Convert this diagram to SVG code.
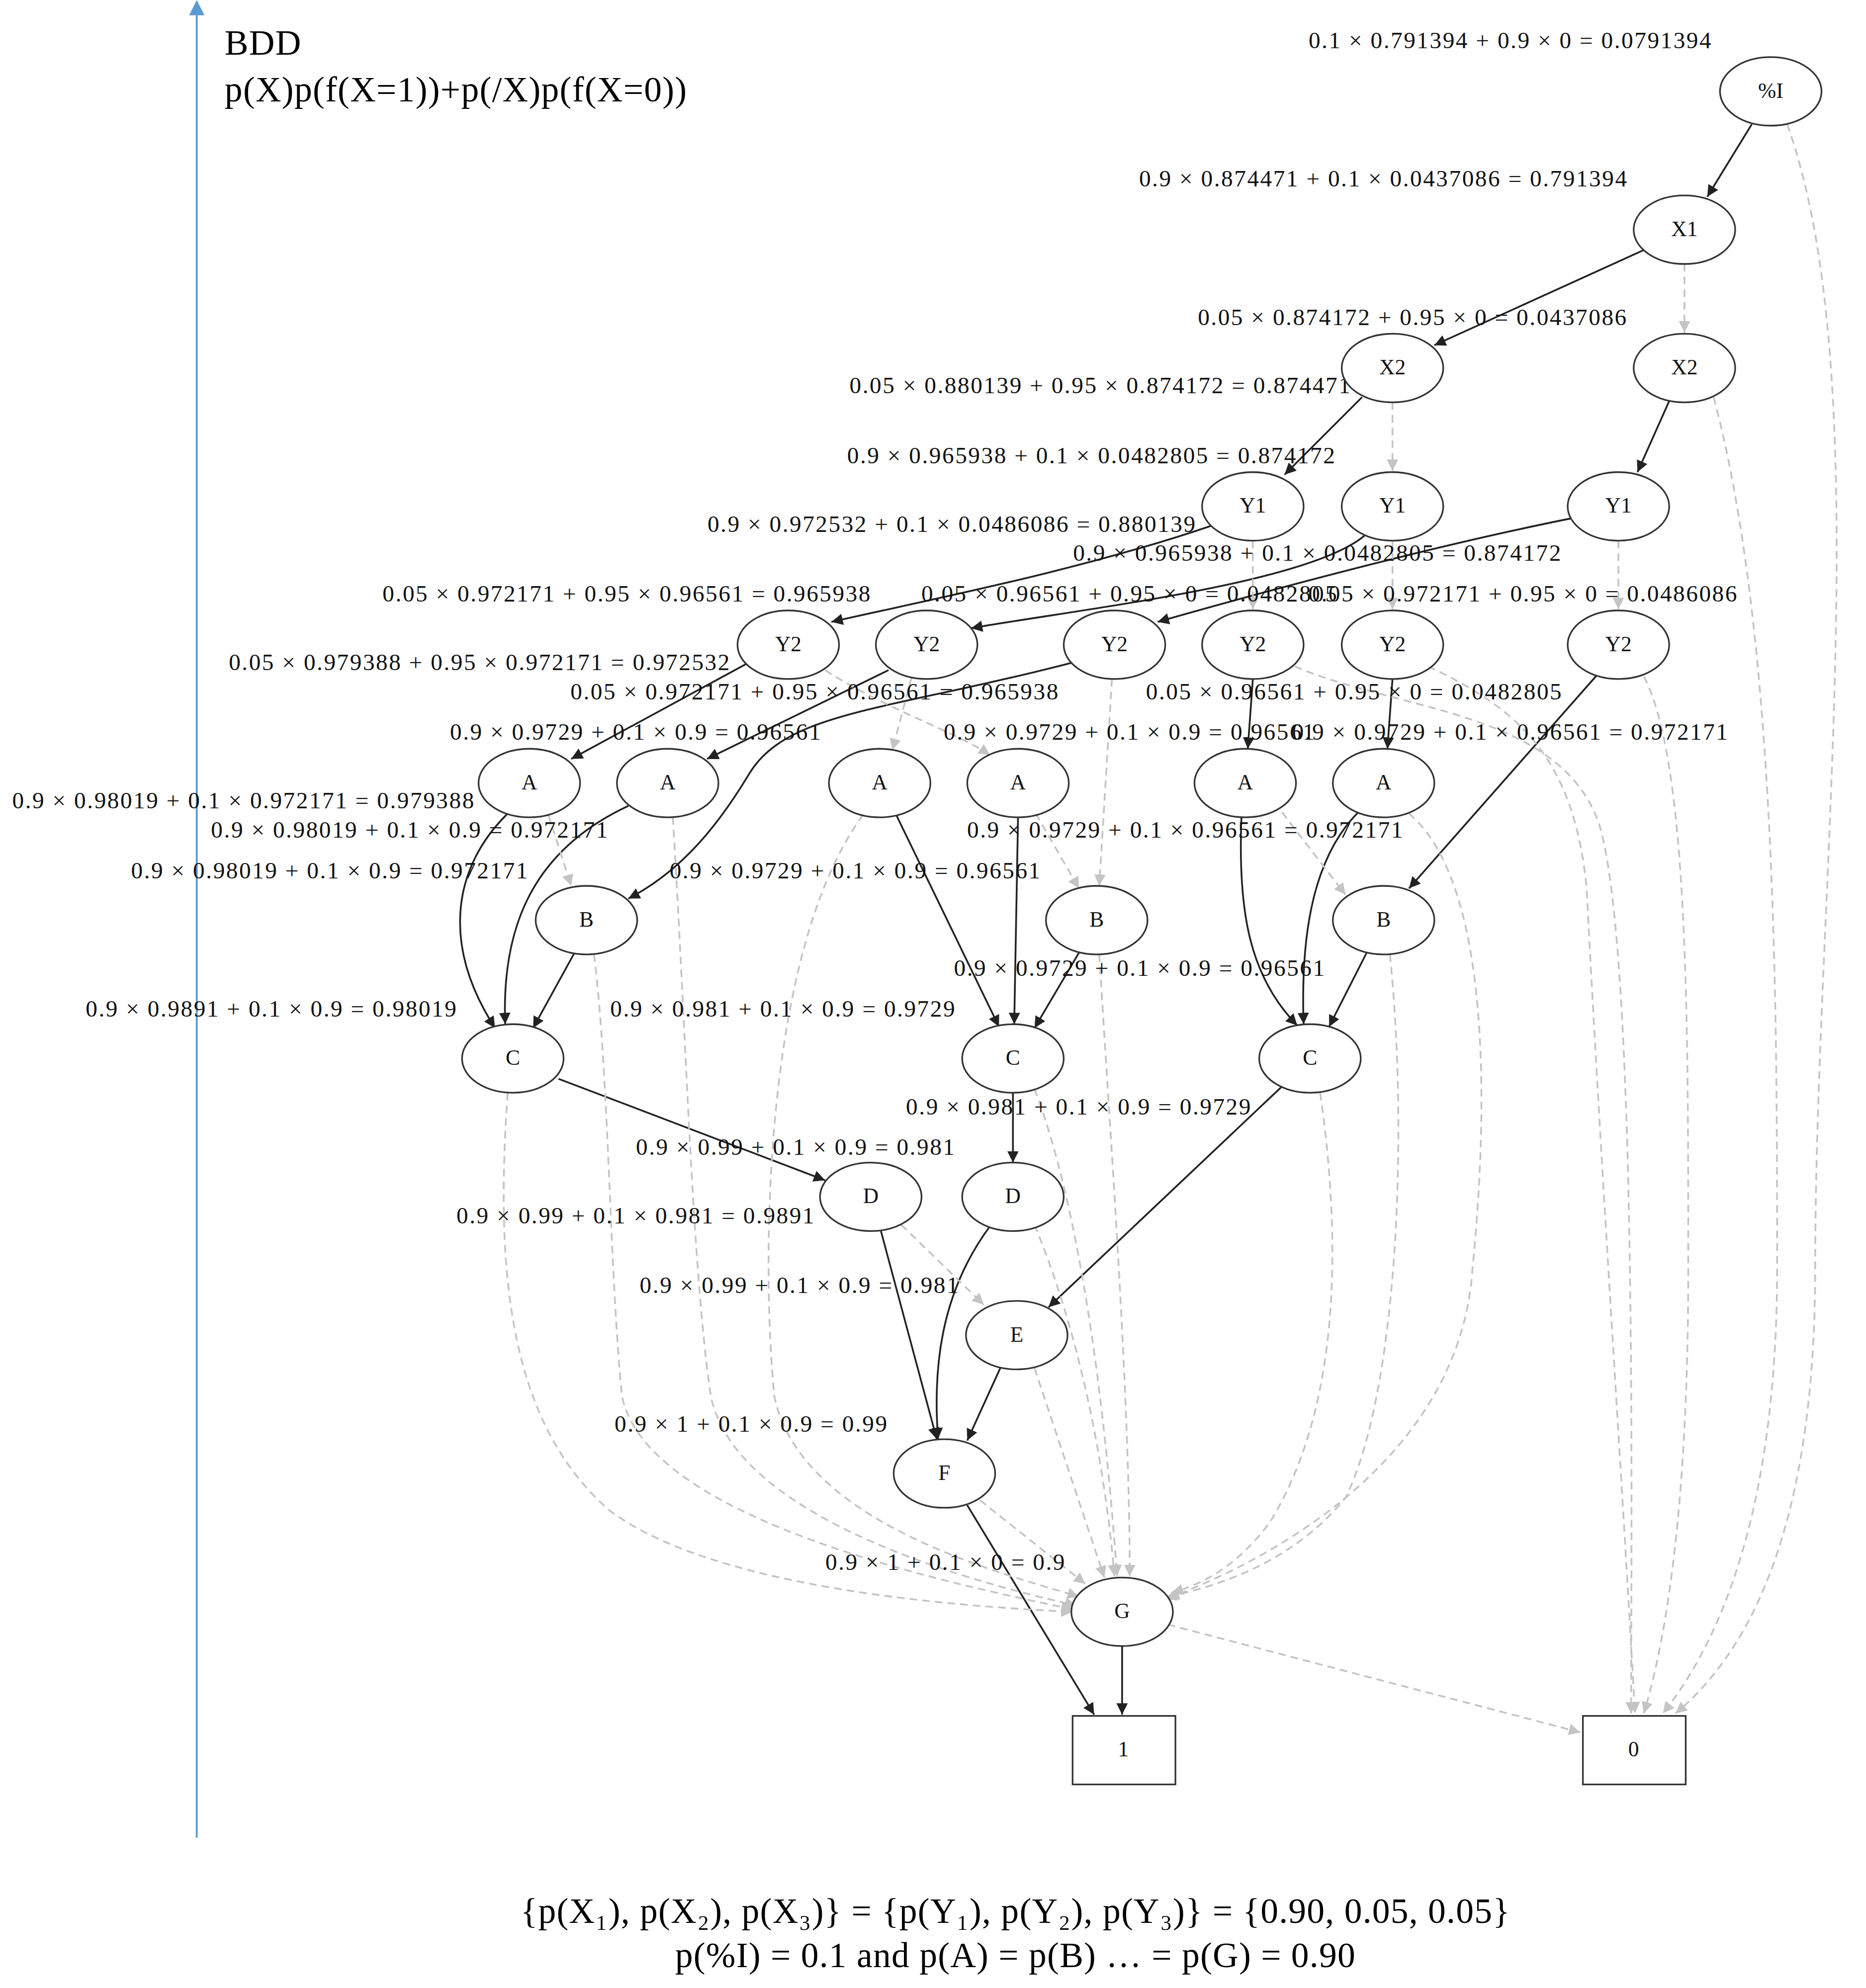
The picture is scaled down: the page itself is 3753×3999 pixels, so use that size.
<svg xmlns="http://www.w3.org/2000/svg" width="3753" height="3999" viewBox="0 0 3753 3999">
<style>
.n ellipse,.n rect{fill:#fff;stroke:#333;stroke-width:1.3}
.n text{font-family:"Liberation Serif",serif;font-size:17px;text-anchor:middle;fill:#111}
.lb{font-family:"Liberation Serif",serif;font-size:18.5px;letter-spacing:1px;text-anchor:middle;fill:#111}
.s{fill:none;stroke:#222;stroke-width:1.4;marker-end:url(#ab)}
.d{fill:none;stroke:#c4c4c4;stroke-width:1.4;stroke-dasharray:6,4;marker-end:url(#ag)}
.big{font-family:"Liberation Serif",serif;font-size:28px;letter-spacing:0.5px;fill:#000}
</style>
<defs>
<marker id="ab" viewBox="0 0 10 10" refX="10" refY="5" markerWidth="9" markerHeight="9" markerUnits="userSpaceOnUse" orient="auto"><path d="M0,0L10,5L0,10z" fill="#222"/></marker>
<marker id="ag" viewBox="0 0 10 10" refX="10" refY="5" markerWidth="9" markerHeight="9" markerUnits="userSpaceOnUse" orient="auto"><path d="M0,0L10,5L0,10z" fill="#c4c4c4"/></marker>
<marker id="abl" viewBox="0 0 10 10" refX="5" refY="10" markerWidth="12" markerHeight="12" markerUnits="userSpaceOnUse"><path d="M0,10L5,0L10,10z" fill="#5b9bd5"/></marker>
</defs>
<rect width="3753" height="3999" fill="#fff"/>
<g transform="scale(2.553)">
<g id="axis"><line x1="155" y1="1448" x2="155" y2="12" stroke="#5b9bd5" stroke-width="1.5" marker-end="url(#abl)"/>
<text class="big" x="177" y="43">BDD</text>
<text class="big" x="177" y="80">p(X)p(f(X=1))+p(/X)p(f(X=0))</text></g>
<g id="connectors">
<path class="s" d="M1380,98 L1345,155"/>
<path class="s" d="M1295,197 L1130,272"/>
<path class="s" d="M1073,313 L1012,374"/>
<path class="s" d="M1315,316 L1290,372"/>
<path class="s" d="M955,414 C850,450 720,475 655,490"/>
<path class="s" d="M1075,422 C1030,460 850,480 765,495"/>
<path class="s" d="M1240,408 C1130,430 1000,465 912,490"/>
<path class="s" d="M590,522 L450,598"/>
<path class="s" d="M700,528 L557,598"/>
<path class="s" d="M845,522 C700,560 620,560 590,610 C560,660 530,690 495,708"/>
<path class="s" d="M987,535 L983,590"/>
<path class="s" d="M1097,535 L1093,590"/>
<path class="s" d="M1258,532 L1110,700"/>
<path class="s" d="M400,641 C360,680 345,740 390,810"/>
<path class="s" d="M495,635 C420,670 395,730 398,807"/>
<path class="s" d="M706,642 L787,809"/>
<path class="s" d="M802,644 L799,807"/>
<path class="s" d="M978,644 C975,720 985,770 1022,808"/>
<path class="s" d="M1070,640 C1030,680 1025,750 1027,807"/>
<path class="s" d="M453,750 L420,810"/>
<path class="s" d="M851,749 L815,810"/>
<path class="s" d="M1077,750 L1047,809"/>
<path class="s" d="M440,850 L650,930"/>
<path class="s" d="M798,861 L798,916"/>
<path class="s" d="M1010,856 L826,1030"/>
<path class="s" d="M694,970 L738,1134"/>
<path class="s" d="M780,966 C740,1020 735,1080 739,1134"/>
<path class="s" d="M788,1078 L762,1135"/>
<path class="s" d="M762,1186 L862,1351"/>
<path class="s" d="M884,1297 L884,1351"/>
<path class="d" d="M1408,98 C1480,300 1430,700 1430,1000 C1430,1200 1380,1300 1320,1350"/>
<path class="d" d="M1327,208 L1327,262"/>
<path class="d" d="M1097,317 L1097,371"/>
<path class="d" d="M1350,313 C1400,500 1400,800 1400,1000 C1400,1200 1350,1300 1310,1350"/>
<path class="d" d="M987,426 L987,480"/>
<path class="d" d="M1097,426 L1097,480"/>
<path class="d" d="M1275,426 L1275,480"/>
<path class="d" d="M650,528 C700,560 750,575 780,595"/>
<path class="d" d="M718,534 L703,591"/>
<path class="d" d="M876,535 L866,698"/>
<path class="d" d="M1020,525 C1100,560 1230,560 1260,650 C1290,750 1285,1200 1285,1350"/>
<path class="d" d="M1125,525 C1200,560 1240,600 1250,700 C1260,900 1280,1200 1288,1350"/>
<path class="d" d="M1295,533 C1330,600 1330,800 1330,1000 C1330,1200 1310,1300 1295,1350"/>
<path class="d" d="M432,642 L450,698"/>
<path class="d" d="M530,644 C540,800 545,1000 560,1100 C580,1200 780,1250 848,1265"/>
<path class="d" d="M680,642 C600,750 600,1000 610,1100 C630,1200 790,1240 850,1258"/>
<path class="d" d="M816,641 L850,700"/>
<path class="d" d="M1010,640 L1060,705"/>
<path class="d" d="M1110,641 C1180,700 1170,900 1160,1000 C1150,1150 1000,1230 918,1260"/>
<path class="d" d="M468,752 C480,850 480,1000 490,1100 C510,1200 760,1250 845,1268"/>
<path class="d" d="M866,752 C875,900 890,1100 890,1242"/>
<path class="d" d="M1095,752 C1110,900 1100,1100 1060,1180 C1020,1230 960,1250 920,1258"/>
<path class="d" d="M400,861 C390,1000 400,1120 480,1190 C560,1250 740,1265 845,1270"/>
<path class="d" d="M815,858 C850,950 870,1100 880,1242"/>
<path class="d" d="M1040,861 C1060,1000 1050,1120 1000,1200 C970,1240 940,1250 923,1255"/>
<path class="d" d="M710,965 L775,1028"/>
<path class="d" d="M815,965 C850,1050 870,1150 878,1242"/>
<path class="d" d="M815,1078 L870,1243"/>
<path class="d" d="M772,1182 L855,1248"/>
<path class="d" d="M920,1280 L1245,1365"/>
</g>
<g id="labels">
<text class="lb" x="1190" y="38">0.1 × 0.791394 + 0.9 × 0 = 0.0791394</text>
<text class="lb" x="1090" y="147">0.9 × 0.874471 + 0.1 × 0.0437086 = 0.791394</text>
<text class="lb" x="1113" y="256">0.05 × 0.874172 + 0.95 × 0 = 0.0437086</text>
<text class="lb" x="867" y="310">0.05 × 0.880139 + 0.95 × 0.874172 = 0.874471</text>
<text class="lb" x="860" y="365">0.9 × 0.965938 + 0.1 × 0.0482805 = 0.874172</text>
<text class="lb" x="750" y="419">0.9 × 0.972532 + 0.1 × 0.0486086 = 0.880139</text>
<text class="lb" x="1038" y="442">0.9 × 0.965938 + 0.1 × 0.0482805 = 0.874172</text>
<text class="lb" x="494" y="474">0.05 × 0.972171 + 0.95 × 0.96561 = 0.965938</text>
<text class="lb" x="890" y="474">0.05 × 0.96561 + 0.95 × 0 = 0.0482805</text>
<text class="lb" x="1200" y="474">0.05 × 0.972171 + 0.95 × 0 = 0.0486086</text>
<text class="lb" x="378" y="528">0.05 × 0.979388 + 0.95 × 0.972171 = 0.972532</text>
<text class="lb" x="642" y="551">0.05 × 0.972171 + 0.95 × 0.96561 = 0.965938</text>
<text class="lb" x="1067" y="551">0.05 × 0.96561 + 0.95 × 0 = 0.0482805</text>
<text class="lb" x="501" y="583">0.9 × 0.9729 + 0.1 × 0.9 = 0.96561</text>
<text class="lb" x="890" y="583">0.9 × 0.9729 + 0.1 × 0.9 = 0.96561</text>
<text class="lb" x="1190" y="583">0.9 × 0.9729 + 0.1 × 0.96561 = 0.972171</text>
<text class="lb" x="192" y="637">0.9 × 0.98019 + 0.1 × 0.972171 = 0.979388</text>
<text class="lb" x="323" y="660">0.9 × 0.98019 + 0.1 × 0.9 = 0.972171</text>
<text class="lb" x="934" y="660">0.9 × 0.9729 + 0.1 × 0.96561 = 0.972171</text>
<text class="lb" x="260" y="692">0.9 × 0.98019 + 0.1 × 0.9 = 0.972171</text>
<text class="lb" x="674" y="692">0.9 × 0.9729 + 0.1 × 0.9 = 0.96561</text>
<text class="lb" x="898" y="769">0.9 × 0.9729 + 0.1 × 0.9 = 0.96561</text>
<text class="lb" x="214" y="801">0.9 × 0.9891 + 0.1 × 0.9 = 0.98019</text>
<text class="lb" x="617" y="801">0.9 × 0.981 + 0.1 × 0.9 = 0.9729</text>
<text class="lb" x="850" y="878">0.9 × 0.981 + 0.1 × 0.9 = 0.9729</text>
<text class="lb" x="627" y="910">0.9 × 0.99 + 0.1 × 0.9 = 0.981</text>
<text class="lb" x="501" y="964">0.9 × 0.99 + 0.1 × 0.981 = 0.9891</text>
<text class="lb" x="630" y="1019">0.9 × 0.99 + 0.1 × 0.9 = 0.981</text>
<text class="lb" x="592" y="1128">0.9 × 1 + 0.1 × 0.9 = 0.99</text>
<text class="lb" x="745" y="1237">0.9 × 1 + 0.1 × 0 = 0.9</text>
</g>
<g id="nI" class="n"><ellipse cx="1395" cy="72" rx="40" ry="27"/><text x="1395" y="77">%I</text></g>
<g id="nX1" class="n"><ellipse cx="1327" cy="181" rx="40" ry="27"/><text x="1327" y="186">X1</text></g>
<g id="nX2a" class="n"><ellipse cx="1097" cy="290" rx="40" ry="27"/><text x="1097" y="295">X2</text></g>
<g id="nX2b" class="n"><ellipse cx="1327" cy="290" rx="40" ry="27"/><text x="1327" y="295">X2</text></g>
<g id="nY1a" class="n"><ellipse cx="987" cy="399" rx="40" ry="27"/><text x="987" y="404">Y1</text></g>
<g id="nY1b" class="n"><ellipse cx="1097" cy="399" rx="40" ry="27"/><text x="1097" y="404">Y1</text></g>
<g id="nY1c" class="n"><ellipse cx="1275" cy="399" rx="40" ry="27"/><text x="1275" y="404">Y1</text></g>
<g id="nY2a" class="n"><ellipse cx="621" cy="508" rx="40" ry="27"/><text x="621" y="513">Y2</text></g>
<g id="nY2b" class="n"><ellipse cx="730" cy="508" rx="40" ry="27"/><text x="730" y="513">Y2</text></g>
<g id="nY2c" class="n"><ellipse cx="878" cy="508" rx="40" ry="27"/><text x="878" y="513">Y2</text></g>
<g id="nY2d" class="n"><ellipse cx="987" cy="508" rx="40" ry="27"/><text x="987" y="513">Y2</text></g>
<g id="nY2e" class="n"><ellipse cx="1097" cy="508" rx="40" ry="27"/><text x="1097" y="513">Y2</text></g>
<g id="nY2f" class="n"><ellipse cx="1275" cy="508" rx="40" ry="27"/><text x="1275" y="513">Y2</text></g>
<g id="nA1" class="n"><ellipse cx="417" cy="617" rx="40" ry="27"/><text x="417" y="622">A</text></g>
<g id="nA2" class="n"><ellipse cx="526" cy="617" rx="40" ry="27"/><text x="526" y="622">A</text></g>
<g id="nA3" class="n"><ellipse cx="693" cy="617" rx="40" ry="27"/><text x="693" y="622">A</text></g>
<g id="nA4" class="n"><ellipse cx="802" cy="617" rx="40" ry="27"/><text x="802" y="622">A</text></g>
<g id="nA5" class="n"><ellipse cx="981" cy="617" rx="40" ry="27"/><text x="981" y="622">A</text></g>
<g id="nA6" class="n"><ellipse cx="1090" cy="617" rx="40" ry="27"/><text x="1090" y="622">A</text></g>
<g id="nB1" class="n"><ellipse cx="462" cy="725" rx="40" ry="27"/><text x="462" y="730">B</text></g>
<g id="nB2" class="n"><ellipse cx="864" cy="725" rx="40" ry="27"/><text x="864" y="730">B</text></g>
<g id="nB3" class="n"><ellipse cx="1090" cy="725" rx="40" ry="27"/><text x="1090" y="730">B</text></g>
<g id="nC1" class="n"><ellipse cx="404" cy="834" rx="40" ry="27"/><text x="404" y="839">C</text></g>
<g id="nC2" class="n"><ellipse cx="798" cy="834" rx="40" ry="27"/><text x="798" y="839">C</text></g>
<g id="nC3" class="n"><ellipse cx="1032" cy="834" rx="40" ry="27"/><text x="1032" y="839">C</text></g>
<g id="nD1" class="n"><ellipse cx="686" cy="943" rx="40" ry="27"/><text x="686" y="948">D</text></g>
<g id="nD2" class="n"><ellipse cx="798" cy="943" rx="40" ry="27"/><text x="798" y="948">D</text></g>
<g id="nE" class="n"><ellipse cx="801" cy="1052" rx="40" ry="27"/><text x="801" y="1057">E</text></g>
<g id="nF" class="n"><ellipse cx="744" cy="1161" rx="40" ry="27"/><text x="744" y="1166">F</text></g>
<g id="nG" class="n"><ellipse cx="884" cy="1270" rx="40" ry="27"/><text x="884" y="1275">G</text></g>
<g id="n1" class="n"><rect x="845" y="1352" width="81" height="54"/><text x="885" y="1384">1</text></g>
<g id="n0" class="n"><rect x="1247" y="1352" width="81" height="54"/><text x="1287" y="1384">0</text></g>
<g id="caption">
<text class="big" x="800" y="1515" text-anchor="middle">{p(X₁), p(X₂), p(X₃)} = {p(Y₁), p(Y₂), p(Y₃)} = {0.90, 0.05, 0.05}</text>
<text class="big" x="800" y="1550" text-anchor="middle">p(%I) = 0.1 and p(A) = p(B) … = p(G) = 0.90</text>
</g>
</g>
</svg>
